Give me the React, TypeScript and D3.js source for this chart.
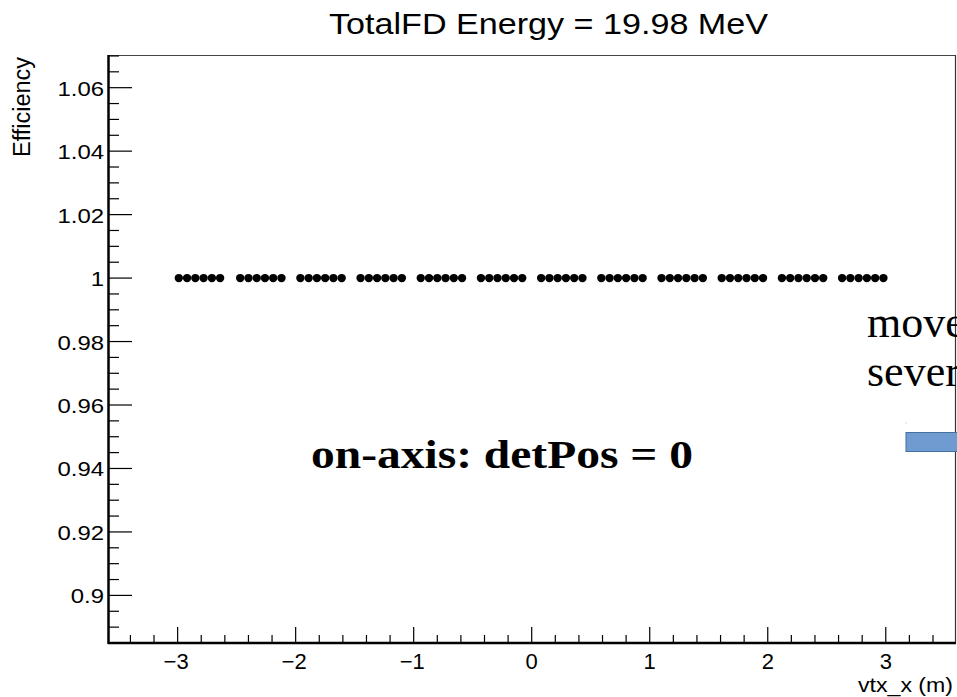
import React from "react";
import * as d3 from "d3";

const vtxX: number[] = [
  -2.99, -2.92, -2.85, -2.78, -2.71, -2.64,
  -2.47, -2.4, -2.33, -2.26, -2.19, -2.12,
  -1.96, -1.89, -1.82, -1.75, -1.68, -1.61,
  -1.45, -1.38, -1.31, -1.24, -1.17, -1.1,
  -0.94, -0.87, -0.8, -0.73, -0.66, -0.59,
  -0.43, -0.36, -0.29, -0.22, -0.15, -0.08,
  0.08, 0.15, 0.22, 0.29, 0.36, 0.43,
  0.59, 0.66, 0.73, 0.8, 0.87, 0.94,
  1.1, 1.17, 1.24, 1.31, 1.38, 1.45,
  1.61, 1.68, 1.75, 1.82, 1.89, 1.96,
  2.12, 2.19, 2.26, 2.33, 2.4, 2.47,
  2.63, 2.7, 2.77, 2.84, 2.91, 2.98,
];
const efficiency: number[] = vtxX.map(() => 1);

const xMajorTicks = [-3, -2, -1, 0, 1, 2, 3];
const xTickLabels = ["\u22123", "\u22122", "\u22121", "0", "1", "2", "3"];
const yMajorTicks = [0.9, 0.92, 0.94, 0.96, 0.98, 1, 1.02, 1.04, 1.06];
const yTickLabels = ["0.9", "0.92", "0.94", "0.96", "0.98", "1", "1.02", "1.04", "1.06"];

const title = "TotalFD Energy = 19.98 MeV";
const xTitle = "vtx_x (m)";
const yTitle = "Efficiency";
const annotation = "on-axis: detPos = 0";
const sideText = ["moved", "several"];

const W = 957;
const H = 697;
const L = 108;
const R = 956;
const T = 55;
const B = 643;

export default function App() {
  const x = d3.scaleLinear().domain([-3.59, 3.595]).range([L, R]);
  const y = d3.scaleLinear().domain([0.885, 1.0703]).range([B, T]);

  const xMinor = d3.range(-34, 35, 2).map((v) => v / 10).filter((v) => Math.abs(v - Math.round(v)) > 1e-6);
  const yMinor = d3.range(177, 215).map((v) => v / 200).filter((v) => Math.abs(v * 50 - Math.round(v * 50)) > 1e-6);

  const sans = "'Liberation Sans', Arial, Helvetica, sans-serif";
  const serif = "'Liberation Serif', 'Times New Roman', serif";

  return (
    <svg
      width={W}
      height={H}
      style={{ position: "absolute", left: 0, top: 0, background: "#fff" }}
    >
      <defs>
        <clipPath id="pageclip">
          <rect x={0} y={0} width={W} height={H} />
        </clipPath>
      </defs>
      <rect x={0} y={0} width={W} height={H} fill="#fff" />
      {/* frame */}
      <line x1={L} x2={R} y1={T + 0.5} y2={T + 0.5} stroke="#444" strokeWidth={1.2} />
      <line x1={R - 0.5} x2={R - 0.5} y1={T} y2={B} stroke="#333" strokeWidth={1.2} />
      {/* ticks */}
      {yMinor.map((v) => (
        <line key={"ym" + v} x1={L} x2={L + 11} y1={y(v)} y2={y(v)} stroke="#000" strokeWidth={1.2} />
      ))}
      {yMajorTicks.map((v) => (
        <line key={"yM" + v} x1={L} x2={L + 24} y1={y(v)} y2={y(v)} stroke="#000" strokeWidth={1.2} />
      ))}
      {xMinor.map((v) => (
        <line key={"xm" + v} x1={x(v)} x2={x(v)} y1={B} y2={B - 8} stroke="#000" strokeWidth={1.2} />
      ))}
      {xMajorTicks.map((v) => (
        <line key={"xM" + v} x1={x(v)} x2={x(v)} y1={B} y2={B - 16} stroke="#000" strokeWidth={1.2} />
      ))}
      {/* axes */}
      <line x1={L + 0.5} x2={L + 0.5} y1={T} y2={B + 1} stroke="#000" strokeWidth={2.5} />
      <line x1={L} x2={R} y1={B} y2={B} stroke="#000" strokeWidth={2.5} />
      {/* tick labels */}
      {yMajorTicks.map((v, i) => (
        <text
          key={"yl" + v}
          transform={`translate(104,${y(v) + 8}) scale(1.14,1)`}
          textAnchor="end"
          fontFamily={sans}
          fontSize={21}
          fill="#000"
        >
          {yTickLabels[i]}
        </text>
      ))}
      {xMajorTicks.map((v, i) => (
        <text
          key={"xl" + v}
          x={x(v) - (v < 0 ? 1.5 : 0)}
          y={669}
          textAnchor="middle"
          fontFamily={sans}
          fontSize={22}
          fill="#000"
        >
          {xTickLabels[i]}
        </text>
      ))}
      {/* titles */}
      <text x={329} y={34} fontFamily={sans} fontSize={29} textLength={439} lengthAdjust="spacingAndGlyphs" fill="#000">
        {title}
      </text>
      <text x={858} y={692} fontFamily={sans} fontSize={21} textLength={95} lengthAdjust="spacingAndGlyphs" fill="#000">
        {xTitle}
      </text>
      <text
        transform={`translate(30,157) rotate(-90)`}
        fontFamily={sans}
        fontSize={23}
        textLength={100}
        lengthAdjust="spacingAndGlyphs"
        fill="#000"
      >
        {yTitle}
      </text>
      {/* data */}
      {vtxX.map((v, i) => (
        <circle key={"p" + i} cx={x(v)} cy={y(efficiency[i])} r={4.2} fill="#000" />
      ))}
      {/* overlay annotations */}
      <text x={311} y={468} fontFamily={serif} fontWeight="bold" fontSize={40} textLength={382} lengthAdjust="spacingAndGlyphs" fill="#000">
        {annotation}
      </text>
      <g clipPath="url(#pageclip)">
        <text x={867} y={337} fontFamily={serif} fontSize={44} fill="#000">
          {sideText[0]}
        </text>
        <text x={867} y={386} fontFamily={serif} fontSize={44} fill="#000">
          {sideText[1]}
        </text>
        <rect x={906} y={432.5} width={70} height={19} fill="#6f9bd1" stroke="#41719c" strokeWidth={1} />
        <rect x={905.5} y={422.5} width={1} height={1} fill="#9bb8dc" />
      </g>
    </svg>
  );
}
